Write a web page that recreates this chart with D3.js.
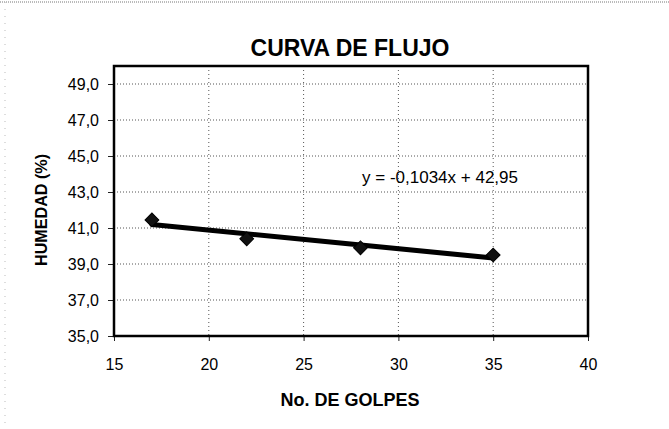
<!DOCTYPE html>
<html>
<head>
<meta charset="utf-8">
<script src="https://cdn.jsdelivr.net/npm/d3@7"></script>
<style>
  html, body { margin: 0; padding: 0; background: #fff; }
  svg { display: block; font-family: "Liberation Sans", Arial, sans-serif; }
</style>
</head>
<body>
<svg id="chart" width="669" height="429"></svg>
<script>
// Flow curve (liquid limit test): moisture vs number of blows
const golpes = [17, 22, 28, 35];
const humedad = [41.45, 40.4, 39.9, 39.5];
const xTicks = [15, 20, 25, 30, 35, 40];
const yTicks = [35, 37, 39, 41, 43, 45, 47, 49];
const slope = -0.1034;
const intercept = 42.95;
const titleText = "CURVA DE FLUJO";
const xTitle = "No. DE GOLPES";
const yTitle = "HUMEDAD (%)";

const svg = d3.select("#chart");
const W = 669, H = 429;
const plot = { left: 114, right: 588, top: 66, bottom: 336 };

const x = d3.scaleLinear().domain([15, 40]).range([plot.left, plot.right]);
const y = d3.scaleLinear().domain([35, 50]).range([plot.bottom, plot.top]);
const fmt = v => d3.format(".1f")(v).replace(".", ",");

// outer chart frame (faint dotted)
svg.append("line").attr("x1", 0).attr("x2", W).attr("y1", 2).attr("y2", 2)
  .attr("stroke", "#777").attr("stroke-dasharray", "1,1").attr("stroke-width", 1);
svg.append("line").attr("x1", 5).attr("x2", 5).attr("y1", 2).attr("y2", H)
  .attr("stroke", "#bbb").attr("stroke-dasharray", "1,6").attr("stroke-width", 1);

// gridlines
const grid = svg.append("g");
grid.selectAll(".hg").data(yTicks.filter(t => t > 35)).join("line")
  .attr("x1", plot.left).attr("x2", plot.right)
  .attr("y1", d => y(d)).attr("y2", d => y(d))
  .attr("stroke", "#555").attr("stroke-width", 1).attr("stroke-dasharray", "1,2");
grid.selectAll(".vg").data(xTicks.filter(t => t > 15 && t < 40)).join("line")
  .attr("x1", d => x(d)).attr("x2", d => x(d))
  .attr("y1", plot.top).attr("y2", plot.bottom)
  .attr("stroke", "#555").attr("stroke-width", 1).attr("stroke-dasharray", "1,3");

// axes
const yAxis = d3.axisLeft(y).tickValues(yTicks).tickFormat(fmt).tickSize(6).tickPadding(9);
const xAxis = d3.axisBottom(x).tickValues(xTicks).tickFormat(d3.format("d")).tickSize(5).tickPadding(18);

const gy = svg.append("g").attr("transform", `translate(${plot.left},0)`).call(yAxis);
const gx = svg.append("g").attr("transform", `translate(0,${plot.bottom})`).call(xAxis);
[gy, gx].forEach(g => {
  g.select(".domain").remove();
  g.selectAll(".tick line").attr("stroke", "#222").attr("stroke-width", 1);
  g.selectAll(".tick text").attr("fill", "#000")
    .attr("font-family", "Liberation Sans, Arial, sans-serif");
});
gy.selectAll(".tick text").attr("font-size", 16);
gx.selectAll(".tick text").attr("font-size", 16);

// plot area frame
svg.append("rect")
  .attr("x", plot.left).attr("y", plot.top)
  .attr("width", plot.right - plot.left).attr("height", plot.bottom - plot.top)
  .attr("fill", "none").attr("stroke", "#000").attr("stroke-width", 2.5);

// linear trendline from the fitted equation
const x0 = d3.min(golpes), x1 = d3.max(golpes);
svg.append("line")
  .attr("x1", x(x0)).attr("y1", y(slope * x0 + intercept))
  .attr("x2", x(x1)).attr("y2", y(slope * x1 + intercept))
  .attr("stroke", "#000").attr("stroke-width", 5).attr("stroke-linecap", "round");

// data markers (diamonds)
const pts = golpes.map((g, i) => ({ g, h: humedad[i] }));
svg.selectAll(".pt").data(pts).join("path")
  .attr("d", d3.symbol(d3.symbolSquare, 95))
  .attr("transform", d => `translate(${x(d.g)},${y(d.h)}) rotate(45)`)
  .attr("fill", "#111").attr("stroke", "#000").attr("stroke-width", 1);

// equation label
const eq = `y = ${String(slope).replace(".", ",")}x + ${String(intercept).replace(".", ",")}`;
svg.append("text").attr("x", 440).attr("y", 183).attr("text-anchor", "middle")
  .attr("font-size", 17).text(eq);

// titles
svg.append("text").attr("x", 350).attr("y", 56).attr("text-anchor", "middle")
  .attr("font-size", 23).attr("font-weight", "bold").text(titleText);
svg.append("text").attr("x", 350).attr("y", 406).attr("text-anchor", "middle")
  .attr("font-size", 18).attr("font-weight", "bold").text(xTitle);
svg.append("text").attr("transform", "translate(47,210) rotate(-90)")
  .attr("text-anchor", "middle").attr("font-size", 17).attr("font-weight", "bold")
  .attr("textLength", 112).attr("lengthAdjust", "spacingAndGlyphs").text(yTitle);
</script>
</body>
</html>
